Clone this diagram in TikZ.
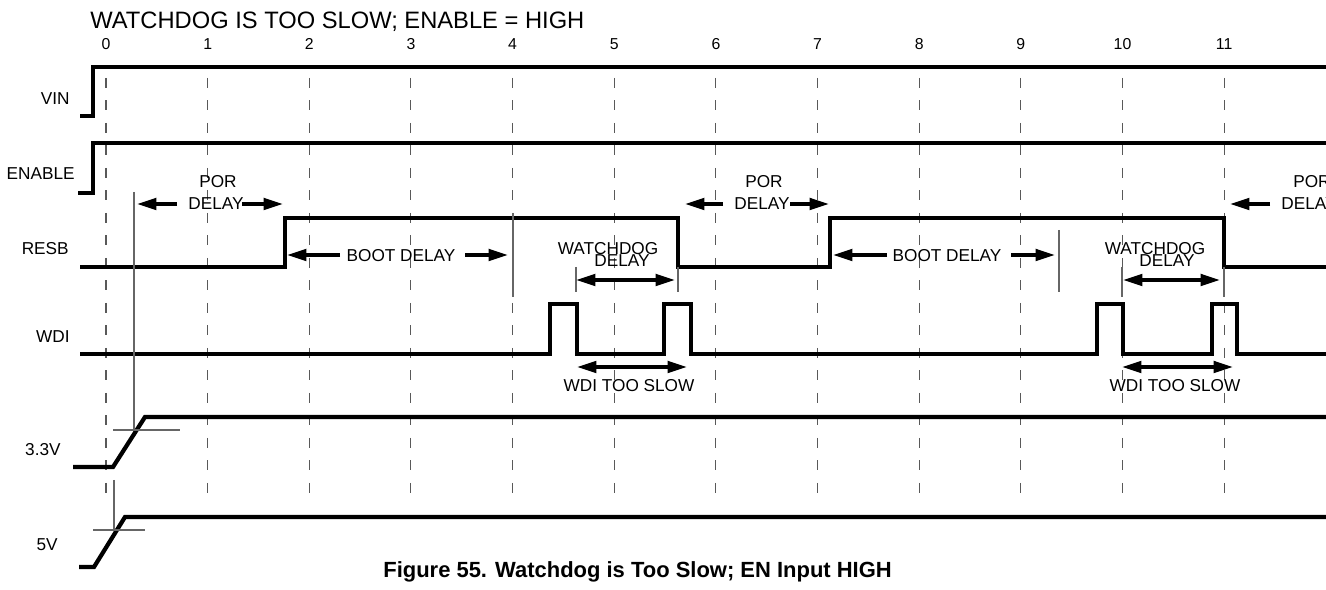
\documentclass[tikz,border=0pt]{standalone}
\usepackage{fontspec}
\setmainfont{Liberation Sans}
\usetikzlibrary{arrows.meta}

\begin{document}
\begin{tikzpicture}[x=0.02cm, y=-0.02cm,
		sig/.style={line width=2.4pt, line join=miter},
		gridline/.style={black!65, line width=0.6pt, dash pattern=on 5.7pt off 7.1pt},
		tickline/.style={black!60, line width=0.6pt},
		lbl/.style={font=\fontsize{9.8}{11}\selectfont, inner sep=0pt},
		num/.style={font=\fontsize{9}{11}\selectfont, inner sep=0pt},
		dimarr/.style={-{Triangle[length=11pt, width=6.5pt]}, line width=2pt},
		twoarr/.style={{Triangle[length=11pt, width=6.5pt]}-{Triangle[length=11pt, width=6.5pt]}, line width=2pt}
	]
	\useasboundingbox (0,0) rectangle (1326,590);
	\clip (0,0) rectangle (1326,590);

	% Title
	\node[anchor=base west, inner sep=0pt, font=\fontsize{13.5}{16}\selectfont] (title) at (90,29) {WATCHDOG IS TOO SLOW; ENABLE = HIGH};

	% Time grid
	\foreach \i in {0,...,11} {
			\draw[gridline] (106+101.65*\i, 78) -- (106+101.65*\i, 505);
			\node[num, anchor=base] (t\i) at (106+101.65*\i, 50) {\i};
		}

	% Signal names
	\node[lbl, anchor=base east] (vin) at (70,105) {VIN};
	\node[lbl, anchor=base east] (enable) at (75,180) {ENABLE};
	\node[lbl, anchor=base east] (resb) at (69,255) {RESB};
	\node[lbl, anchor=base east] (wdi) at (70,343) {WDI};
	\node[lbl, anchor=base east] (v33) at (61,456) {3.3V};
	\node[lbl, anchor=base east] (v5) at (58,551) {5V};

	% Waveforms
	\draw[sig] (80,116) -- (93,116) -- (93,67) -- (1330,67);
	\draw[sig] (78,193) -- (93,193) -- (93,143) -- (1330,143);
	\draw[sig] (80,267) -- (285,267) -- (285,218) -- (678,218) -- (678,267) -- (830,267)
		-- (830,218) -- (1224,218) -- (1224,267) -- (1330,267);
	\draw[sig] (80,354) -- (550,354) -- (550,304) -- (577,304) -- (577,354) -- (664,354)
		-- (664,304) -- (691,304) -- (691,354) -- (1097,354) -- (1097,304) -- (1123,304)
		-- (1123,354) -- (1212,354) -- (1212,304) -- (1237,304) -- (1237,354) -- (1330,354);
	\draw[sig] (73,467) -- (113,467) -- (145,417) -- (1330,417);
	\draw[sig] (79,567) -- (94,567) -- (125,517) -- (1330,517);

	% Reference marks
	\draw[tickline] (134,192) -- (134,430);
	\draw[tickline] (113,430) -- (180,430);
	\draw[tickline] (114,480) -- (114,530);
	\draw[tickline] (93,530) -- (145,530);
	\draw[tickline] (513,213) -- (513,297);
	\draw[tickline] (1059,230) -- (1059,292);
	\draw[tickline] (576,267) -- (576,292);
	\draw[tickline] (678,267) -- (678,292);
	\draw[tickline] (1122,267) -- (1122,297);
	\draw[tickline] (1224,267) -- (1224,297);

	% Arrow ends
	\coordinate (por1a) at (177,204);  \coordinate (por1b) at (137,204);
	\coordinate (por1c) at (242,204);  \coordinate (por1d) at (283,204);
	\coordinate (boot1a) at (340,255); \coordinate (boot1b) at (287,255);
	\coordinate (boot1c) at (465,255); \coordinate (boot1d) at (508,255);
	\coordinate (wd1a) at (576,280);   \coordinate (wd1b) at (675,280);
	\coordinate (slow1a) at (577,367); \coordinate (slow1b) at (687,367);
	\coordinate (por2a) at (723,204);  \coordinate (por2b) at (685,204);
	\coordinate (por2c) at (790,204);  \coordinate (por2d) at (829,204);
	\coordinate (boot2a) at (887,255); \coordinate (boot2b) at (833,255);
	\coordinate (boot2c) at (1011,255); \coordinate (boot2d) at (1055,255);
	\coordinate (wd2a) at (1123,280);  \coordinate (wd2b) at (1220,280);
	\coordinate (slow2a) at (1122,367); \coordinate (slow2b) at (1233,367);
	\coordinate (por3a) at (1270,204); \coordinate (por3b) at (1230,204);

	% First cycle
	\node[lbl, anchor=base] (por1) at (218,188) {POR};
	\node[lbl, anchor=base] (pordly1) at (216,210) {DELAY};
	\draw[dimarr] (por1a) -- (por1b);
	\draw[dimarr] (por1c) -- (por1d);
	\node[lbl, anchor=base] (boot1) at (401,262) {BOOT DELAY};
	\draw[dimarr] (boot1a) -- (boot1b);
	\draw[dimarr] (boot1c) -- (boot1d);
	\node[lbl, anchor=base] (wd1) at (608,255) {WATCHDOG};
	\node[lbl, anchor=base] (wddly1) at (622,267) {DELAY};
	\draw[twoarr] (wd1a) -- (wd1b);
	\draw[twoarr] (slow1a) -- (slow1b);
	\node[lbl, anchor=base] (slow1) at (629,392) {WDI TOO SLOW};

	% Second cycle
	\node[lbl, anchor=base] (por2) at (764,188) {POR};
	\node[lbl, anchor=base] (pordly2) at (762,210) {DELAY};
	\draw[dimarr] (por2a) -- (por2b);
	\draw[dimarr] (por2c) -- (por2d);
	\node[lbl, anchor=base] (boot2) at (947,262) {BOOT DELAY};
	\draw[dimarr] (boot2a) -- (boot2b);
	\draw[dimarr] (boot2c) -- (boot2d);
	\node[lbl, anchor=base] (wd2) at (1155,255) {WATCHDOG};
	\node[lbl, anchor=base] (wddly2) at (1167,267) {DELAY};
	\draw[twoarr] (wd2a) -- (wd2b);
	\draw[twoarr] (slow2a) -- (slow2b);
	\node[lbl, anchor=base] (slow2) at (1175,392) {WDI TOO SLOW};

	% Third cycle (cut at the edge)
	\node[lbl, anchor=base west] (por3) at (1293,188) {POR};
	\node[lbl, anchor=base west] (pordly3) at (1281,210) {DELAY};
	\draw[dimarr] (por3a) -- (por3b);

	% Caption
	\node[anchor=base west, inner sep=0pt, font=\bfseries\fontsize{12.5}{15}\selectfont] (caption) at (383,578) {Figure 55. Watchdog is Too Slow; EN Input HIGH};
\end{tikzpicture}
\end{document}
